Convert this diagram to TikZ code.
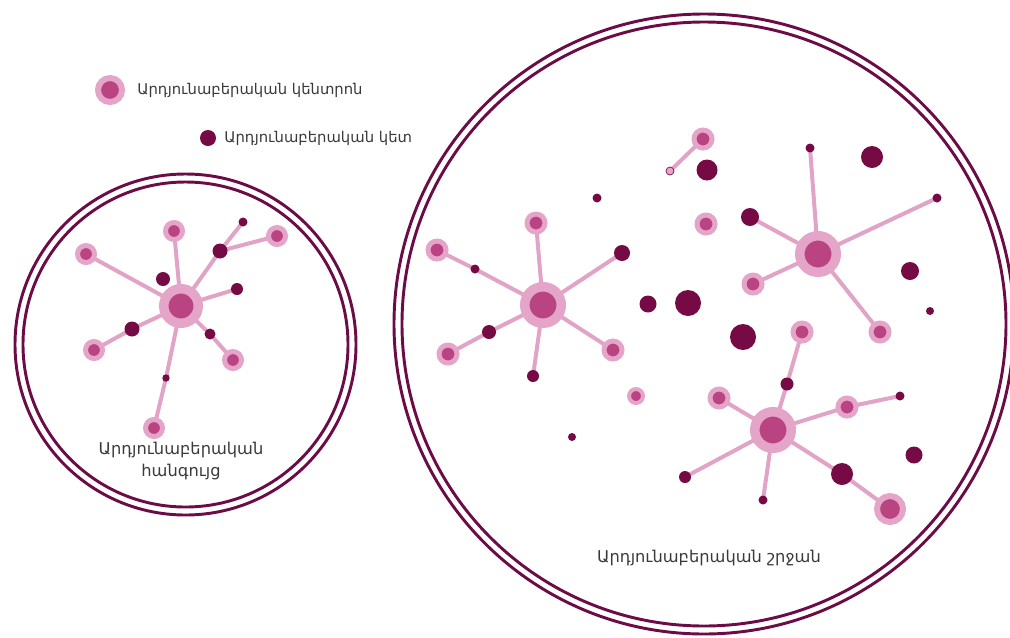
\documentclass[tikz,border=0pt]{standalone}
\usepackage{fontspec}
\setmainfont{DejaVu Sans}
\usetikzlibrary{backgrounds}
\definecolor{pale}{HTML}{E4A5C8}
\definecolor{mag}{HTML}{BA4382}
\definecolor{dark}{HTML}{760A45}
\definecolor{ring}{HTML}{6C0C47}
\definecolor{lnk}{HTML}{E2A4C6}
\definecolor{txt}{HTML}{3A3A3A}
\pgfdeclarelayer{edges}
\pgfsetlayers{edges,main}
\tikzset{
  pn/.style args={#1/#2}{circle, inner sep=0pt, fill=mag, draw=pale,
    line width={(#1-#2)*0.75pt}, minimum size={(#1+#2)*0.75pt}},
  dn/.style={circle, inner sep=0pt, fill=dark, minimum size={#1*1.5pt}},
  link/.style={draw=lnk, line width=3pt},
  ringline/.style={draw=ring, line width=2.2pt},
  lbl/.style={text=txt, font=\fontsize{12.2}{17}\selectfont, align=center, inner sep=0pt},
  lgd/.style={text=txt, font=\fontsize{11.1}{13}\selectfont, anchor=west, inner sep=0pt}
}
\begin{document}
\begin{tikzpicture}[x=0.75pt,y=-0.75pt]
\useasboundingbox (0,0) rectangle (1010,637);
% legend
\node[pn=15/9] (L1) at (110,90) {};
\node[lgd] (L1t) at (137,90) {Արդյունաբերական կենտրոն};
\node[dn=8] (L2) at (208,138) {};
\node[lgd] (L2t) at (224,138) {Արդյունաբերական կետ};
% left circle
\node[circle, ringline, minimum size=2*170.5*0.75pt, inner sep=0pt] (LCo) at (185.5,344.5) {};
\node[circle, ringline, minimum size=2*162.5*0.75pt, inner sep=0pt] (LCi) at (185.5,344.5) {};
\node[pn=22/12.5] (h1) at (181,306) {};
\node[pn=11/6] (a1) at (174,231) {};
\node[pn=11/6] (a2) at (86,254) {};
\node[dn=7.5] (a3) at (220,251) {};
\node[dn=4.5] (a4) at (243,222) {};
\node[pn=11/6] (a5) at (277,236) {};
\node[dn=6] (a6) at (237,289) {};
\node[dn=7] (a7) at (163,279) {};
\node[dn=7.5] (a8) at (132,329) {};
\node[pn=11/6] (a9) at (94,350) {};
\node[dn=5.5] (a10) at (210,334) {};
\node[pn=11/6] (a11) at (233,360) {};
\node[dn=3.7] (a12) at (166,378) {};
\node[pn=11/6] (a13) at (154,428) {};
\node[lbl] (LT) at (181,461) {Արդյունաբերական\\հանգույց};
% right circle
\node[circle, ringline, minimum size=2*310*0.75pt, inner sep=0pt] (RCo) at (704,324) {};
\node[circle, ringline, minimum size=2*302*0.75pt, inner sep=0pt] (RCi) at (704,324) {};
% cluster 1
\node[pn=23/13.5] (h2) at (543,305) {};
\node[pn=11.5/6.5] (b1) at (536,223) {};
\node[pn=11.5/6.5] (b2) at (437,250) {};
\node[dn=4.5] (b3) at (475,269) {};
\node[dn=8] (b4) at (622,253) {};
\node[pn=11.5/6.5] (b5) at (448,354) {};
\node[dn=7] (b6) at (489,332) {};
\node[dn=6] (b7) at (533,376) {};
\node[pn=11.5/6.5] (b8) at (613,350) {};
% loose
\node[dn=4.5] (c1) at (597,198) {};
\node[dn=8.5] (c2) at (648,304) {};
\node[dn=13] (c3) at (688,303) {};
\node[pn=9/5] (c4) at (636,396) {};
\node[pn=11.5/6.5] (c5) at (703,139) {};
\node[circle, inner sep=0pt, fill=pale, draw=dark, line width=0.5pt, minimum size=6pt] (c6) at (670,171) {};
\node[dn=10.5] (c7) at (707,170) {};
\node[pn=11.5/6.5] (c8) at (706,224) {};
\node[dn=11] (c9) at (872,157) {};
\node[dn=9] (c10) at (910,271) {};
\node[dn=4] (c11) at (930,311) {};
\node[dn=13] (c12) at (743,337) {};
\node[dn=4] (c13) at (572,437) {};
\node[dn=8.5] (c14) at (914,455) {};
% cluster 2
\node[pn=23/13.5] (h3) at (818,254) {};
\node[dn=4.5] (d1) at (810,148) {};
\node[dn=4.5] (d2) at (937,198) {};
\node[dn=9] (d3) at (750,217) {};
\node[pn=11.5/6.5] (d4) at (753,284) {};
\node[pn=11.5/6.5] (d5) at (880,332) {};
% cluster 3
\node[pn=23/13.5] (h4) at (773,430) {};
\node[pn=11.5/6.5] (e1) at (802,332) {};
\node[dn=6.5] (e2) at (787,384) {};
\node[pn=11.5/6.5] (e3) at (719,398) {};
\node[pn=11.5/6.5] (e4) at (847,407) {};
\node[dn=4.5] (e5) at (900,396) {};
\node[dn=6] (e6) at (685,477) {};
\node[dn=4.5] (e7) at (763,500) {};
\node[dn=11] (e8) at (842,474) {};
\node[pn=16/10] (e9) at (890,509) {};
\node[lbl] (RT) at (709,558) {Արդյունաբերական շրջան};
% connectors
\begin{pgfonlayer}{edges}
\foreach \u/\v in {h1/a1,h1/a2,h1/a3,a3/a4,a3/a5,h1/a6,h1/a8,a8/a9,h1/a10,a10/a11,h1/a12,a12/a13,
  h2/b1,h2/b3,b3/b2,h2/b4,h2/b6,b6/b5,h2/b7,h2/b8,c5/c6,
  h3/d1,h3/d2,h3/d3,h3/d4,h3/d5,
  h4/e2,e2/e1,h4/e3,h4/e4,e4/e5,h4/e6,h4/e7,h4/e8,e8/e9}
  \draw[link] (\u.center) -- (\v.center);
\end{pgfonlayer}
\end{tikzpicture}
\end{document}
